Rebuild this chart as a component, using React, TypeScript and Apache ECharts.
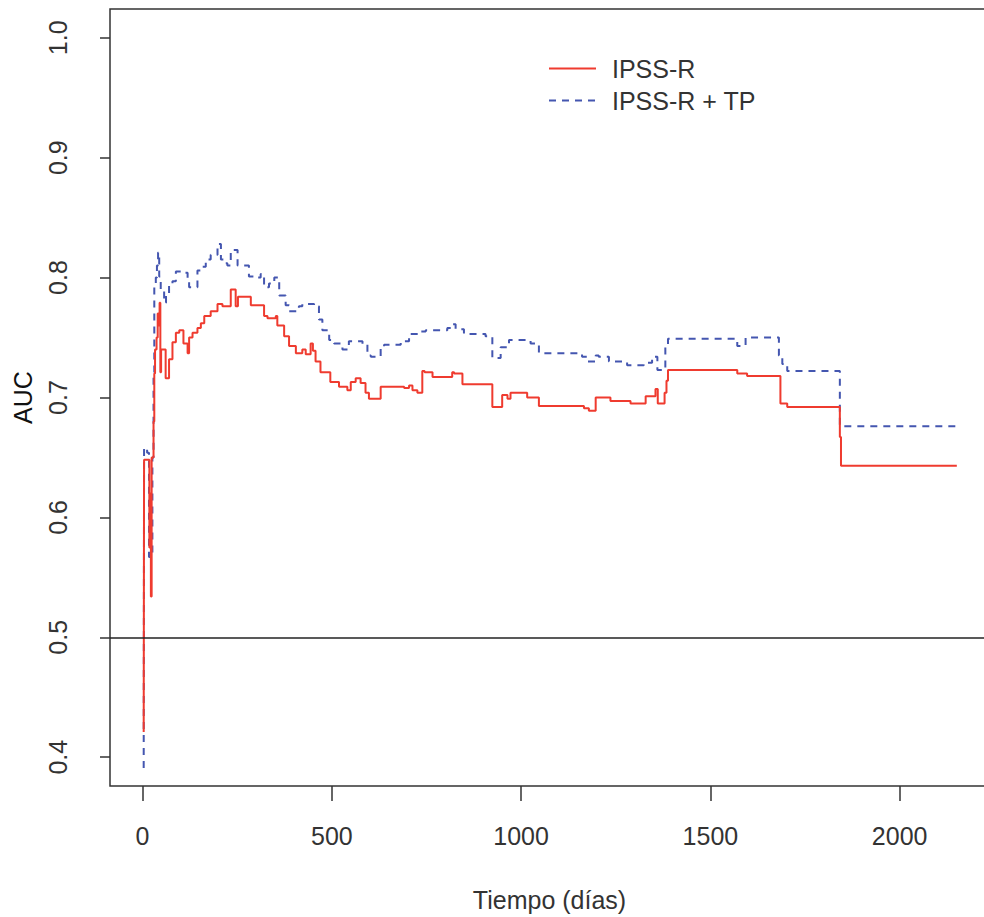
import React, { useEffect, useRef } from "react";
import * as echarts from "echarts";

// Time-dependent AUC, step curves (day, AUC)
const ipssR: [number, number][] = [
  [3, 0.421], [4, 0.648], [18, 0.575], [20, 0.62], [22, 0.534], [24, 0.65],
  [29, 0.68], [31, 0.72], [33, 0.74], [37, 0.75], [40, 0.77], [43, 0.76],
  [45, 0.779], [47, 0.721], [49, 0.74], [61, 0.716], [70, 0.732], [79, 0.746],
  [88, 0.754], [97, 0.756], [108, 0.745], [119, 0.737], [123, 0.75], [132, 0.754],
  [145, 0.758], [154, 0.762], [163, 0.768], [180, 0.772], [198, 0.778], [211, 0.776],
  [233, 0.79], [246, 0.776], [252, 0.784], [286, 0.777], [321, 0.768], [330, 0.766],
  [352, 0.768], [356, 0.76], [374, 0.751], [387, 0.743], [405, 0.737], [422, 0.74],
  [431, 0.736], [444, 0.745], [450, 0.739], [457, 0.73], [470, 0.721], [496, 0.713],
  [519, 0.709], [541, 0.706], [550, 0.713], [563, 0.716], [576, 0.712], [589, 0.704],
  [598, 0.699], [629, 0.709], [691, 0.708], [704, 0.71], [713, 0.706], [726, 0.704],
  [739, 0.722], [745, 0.721], [766, 0.717], [818, 0.721], [823, 0.72], [845, 0.711],
  [924, 0.692], [950, 0.702], [964, 0.699], [972, 0.704], [1016, 0.7], [1047, 0.693],
  [1166, 0.691], [1179, 0.689], [1197, 0.7], [1236, 0.697], [1289, 0.695], [1329, 0.701],
  [1355, 0.707], [1361, 0.695], [1379, 0.704], [1384, 0.714], [1388, 0.723], [1571, 0.72],
  [1597, 0.718], [1685, 0.695], [1703, 0.692], [1842, 0.667], [1845, 0.643], [2151, 0.643],
];

const ipssRTp: [number, number][] = [
  [3, 0.391], [4, 0.658], [12, 0.654], [17, 0.567], [26, 0.65], [29, 0.72],
  [31, 0.792], [35, 0.8], [38, 0.81], [41, 0.821], [44, 0.801], [48, 0.79],
  [53, 0.79], [57, 0.779], [62, 0.787], [70, 0.794], [79, 0.797], [88, 0.805],
  [106, 0.804], [119, 0.798], [123, 0.792], [145, 0.806], [154, 0.809], [167, 0.815],
  [180, 0.819], [198, 0.828], [207, 0.815], [215, 0.812], [224, 0.81], [233, 0.823],
  [251, 0.81], [281, 0.801], [295, 0.8], [312, 0.803], [321, 0.792], [334, 0.795],
  [348, 0.8], [361, 0.785], [378, 0.777], [387, 0.772], [413, 0.776], [422, 0.778],
  [453, 0.776], [466, 0.765], [475, 0.756], [493, 0.748], [506, 0.745], [528, 0.74],
  [545, 0.747], [581, 0.744], [594, 0.735], [603, 0.734], [629, 0.741], [638, 0.744],
  [682, 0.747], [704, 0.753], [730, 0.755], [748, 0.756], [805, 0.758], [818, 0.761],
  [827, 0.757], [849, 0.753], [906, 0.751], [924, 0.733], [946, 0.742], [968, 0.748],
  [1025, 0.745], [1047, 0.737], [1161, 0.734], [1175, 0.73], [1197, 0.735], [1205, 0.734],
  [1232, 0.73], [1280, 0.727], [1324, 0.729], [1346, 0.734], [1360, 0.723], [1381, 0.742],
  [1388, 0.749], [1571, 0.743], [1593, 0.75], [1681, 0.735], [1690, 0.728], [1703, 0.722],
  [1842, 0.676], [2151, 0.676],
];

const xTicks = [0, 500, 1000, 1500, 2000];
const yTicks = [0.4, 0.5, 0.6, 0.7, 0.8, 0.9, 1.0];
const referenceAuc = 0.5;
const seriesNames = ["IPSS-R", "IPSS-R + TP"];

const FONT = "'Liberation Sans', Arial, sans-serif";
const TEXT = "#333";

export default function App() {
  const ref = useRef<HTMLDivElement>(null);
  useEffect(() => {
    if (!ref.current) return;
    const chart = echarts.init(ref.current, undefined, { renderer: "svg" });
    chart.setOption({
      animation: false,
      backgroundColor: "#fff",
      textStyle: { fontFamily: FONT },
      grid: {
        left: 110,
        top: 9,
        right: 11,
        bottom: 123,
        show: true,
        borderColor: "#333",
        borderWidth: 1.5,
        containLabel: false,
      },
      legend: {
        orient: "vertical",
        left: 543,
        top: 51,
        itemWidth: 47,
        itemHeight: 14,
        itemGap: 7,
        data: seriesNames,
        itemStyle: { color: "rgba(0,0,0,0)", borderWidth: 0, opacity: 0 },
        textStyle: {
          fontFamily: FONT,
          fontSize: 25,
          color: TEXT,
          lineHeight: 25,
          padding: [0, 0, 0, 11],
        },
      },
      xAxis: {
        type: "value",
        min: -86,
        max: 2236,
        name: "Tiempo (días)",
        nameLocation: "middle",
        nameGap: 101,
        nameTextStyle: { fontFamily: FONT, fontSize: 25, color: TEXT },
        axisLine: { show: false, onZero: false },
        splitLine: { show: false },
        axisTick: {
          show: true,
          length: 15,
          customValues: xTicks,
          lineStyle: { color: "#333", width: 1.5 },
        },
        axisLabel: {
          customValues: xTicks,
          margin: 37,
          fontFamily: FONT,
          fontSize: 25,
          color: TEXT,
          formatter: (v: number) => String(v),
        },
      },
      yAxis: {
        type: "value",
        min: 0.376,
        max: 1.024,
        name: "AUC",
        nameLocation: "middle",
        nameRotate: 90,
        nameGap: 75,
        nameTextStyle: { fontFamily: FONT, fontSize: 25, color: "#111" },
        axisLine: { show: false, onZero: false },
        splitLine: { show: false },
        axisTick: {
          show: true,
          length: 10,
          customValues: yTicks,
          lineStyle: { color: "#333", width: 1.5 },
        },
        axisLabel: {
          customValues: yTicks,
          rotate: 90,
          margin: 40,
          fontFamily: FONT,
          fontSize: 25,
          color: TEXT,
          formatter: (v: number) => v.toFixed(1),
        },
      },
      series: [
        {
          name: seriesNames[0],
          type: "line",
          step: "end",
          symbol: "none",
          showSymbol: false,
          data: ipssR,
          lineStyle: { color: "#ef3b2f", width: 2 },
          itemStyle: { color: "#ef3b2f" },
          markLine: {
            silent: true,
            symbol: "none",
            label: { show: false },
            lineStyle: { color: "#222", width: 1.5, type: "solid" },
            data: [{ yAxis: referenceAuc }],
          },
          z: 3,
        },
        {
          name: seriesNames[1],
          type: "line",
          step: "end",
          symbol: "none",
          showSymbol: false,
          data: ipssRTp,
          lineStyle: { color: "#4456b0", width: 2, type: [7, 6] },
          itemStyle: { color: "#4456b0" },
          z: 2,
        },
      ],
    });
    return () => chart.dispose();
  }, []);
  return (
    <div
      ref={ref}
      style={{ position: "fixed", left: 0, top: 0, width: 1000, height: 917 }}
    />
  );
}
